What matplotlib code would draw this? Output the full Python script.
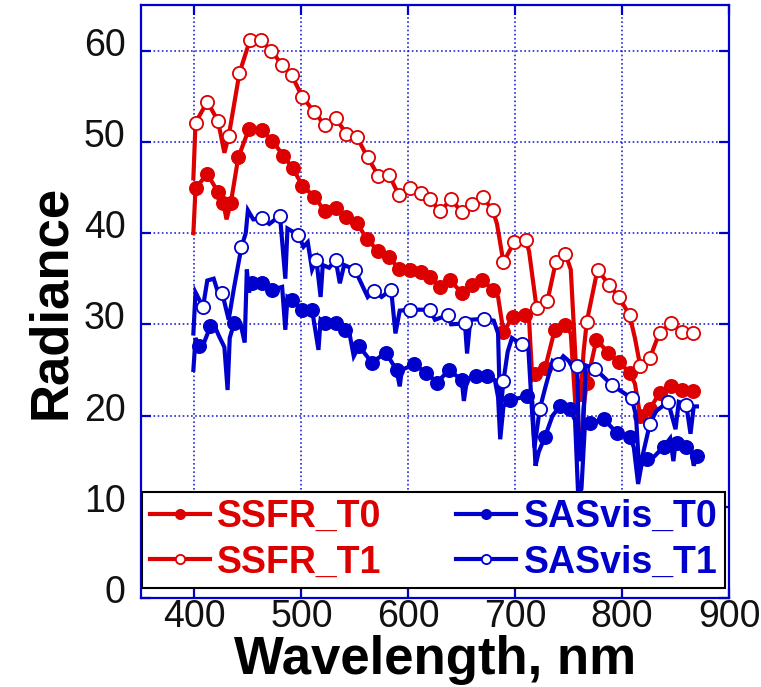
import numpy as np
import matplotlib
matplotlib.use("Agg")
import matplotlib.pyplot as plt
from matplotlib.transforms import ScaledTranslation

plt.rcParams['font.family'] = ['Liberation Sans', 'DejaVu Sans']

RED = '#DD0000'
BLUE = '#0000CC'

# ---- SSFR_T1 (open red circles) ----
ssfr_t1_mk_wl = [401, 412, 422, 432, 442, 452, 462, 472, 482, 491, 501, 512, 522, 532,
                 542, 552, 562, 572, 582, 591, 602, 612, 620, 630, 640, 650, 660, 670,
                 679, 689, 699, 710, 720, 730, 738, 747, 767, 777, 788, 797, 807, 817,
                 826, 835, 846, 856, 866]
ssfr_t1_mk_val = [52.1, 54.4, 52.3, 50.6, 57.5, 61.2, 61.2, 60.0, 58.4, 57.3, 54.9, 53.3,
                  51.8, 52.6, 50.9, 50.5, 48.3, 46.3, 46.4, 44.2, 44.9, 44.4, 43.7, 42.4,
                  43.7, 42.3, 43.2, 43.9, 42.5, 36.8, 39.0, 39.2, 31.8, 32.5, 36.8, 37.7,
                  30.3, 36.0, 34.3, 33.0, 31.0, 25.4, 26.3, 29.1, 30.1, 29.2, 29.0]
ssfr_t1_tr_wl = [399, 428, 683, 713, 752, 757, 761, 764, 812, 870]
ssfr_t1_tr_val = [46.0, 48.8, 41.0, 38.0, 36.0, 25.0, 21.5, 27.0, 28.5, 28.8]

# ---- SSFR_T0 (filled red circles) ----
ssfr_t0_mk_wl = [401, 412, 422, 427, 434, 441, 451, 463, 473, 483, 492, 501, 512, 522,
                 532, 542, 552, 561, 572, 582, 591, 602, 612, 620, 630, 639, 650, 660,
                 669, 679, 689, 698, 709, 719, 728, 737, 747, 767, 776, 787, 797, 807,
                 817, 826, 835, 846, 856, 866]
ssfr_t0_mk_val = [44.9, 46.5, 44.5, 43.3, 43.3, 48.3, 51.4, 51.3, 50.1, 48.5, 47.1, 45.2,
                  44.0, 42.4, 42.7, 41.8, 41.1, 39.4, 38.0, 37.4, 36.1, 36.0, 35.7, 35.2,
                  34.1, 34.9, 33.4, 34.3, 34.9, 33.8, 29.2, 30.8, 31.0, 24.5, 25.2, 29.4,
                  29.9, 23.6, 28.3, 26.9, 25.9, 24.7, 19.9, 20.7, 22.5, 23.2, 22.8, 22.7]
ssfr_t0_tr_wl = [399, 430, 684, 713, 716, 752, 757, 761, 764, 812, 870]
ssfr_t0_tr_val = [40.0, 41.5, 33.0, 30.5, 24.0, 29.0, 20.0, 15.5, 21.0, 23.5, 22.5]

# ---- SASvis_T1 (open blue circles) ----
sas_t1_mk_wl = [408, 426, 444, 463, 480, 497, 514, 532, 550, 568, 584, 602, 620, 637,
                653, 671, 689, 706, 723, 740, 758, 775, 791, 809, 826, 843, 860]
sas_t1_mk_val = [31.9, 33.4, 38.5, 41.6, 41.9, 39.8, 37.1, 37.1, 36.0, 33.7, 33.8, 31.6,
                 31.6, 31.0, 30.1, 30.6, 23.8, 27.8, 20.7, 25.7, 25.4, 25.1, 23.3, 21.9,
                 19.1, 21.5, 21.2]
sas_t1_tr_wl = [399, 401, 412, 418, 422, 432, 437, 448, 450, 455, 470, 485, 487, 502,
                506, 510, 518, 520, 526, 536, 540, 556, 562, 575, 588, 592, 625, 640,
                655, 658, 680, 684, 686, 693, 697, 712, 716, 718, 728, 735, 745, 750,
                755, 760, 763, 766, 813, 816, 832, 850, 853, 864, 867, 870]
sas_t1_tr_val = [29.0, 33.5, 34.8, 35.0, 33.5, 30.5, 34.0, 40.0, 42.5, 41.5, 41.0, 35.0,
                 40.5, 38.5, 39.0, 36.0, 33.0, 36.5, 36.2, 34.5, 36.5, 34.5, 33.0, 33.0,
                 29.0, 31.5, 30.5, 30.0, 26.8, 30.5, 30.4, 29.0, 20.0, 27.0, 28.5, 28.0,
                 20.0, 16.5, 23.0, 26.0, 26.5, 26.0, 25.0, 15.0, 17.0, 25.5, 20.0, 14.0,
                 20.5, 18.5, 21.5, 18.0, 21.0, 21.0]

# ---- SASvis_T0 (filled blue circles) ----
sas_t0_mk_wl = [404, 415, 437, 454, 463, 473, 491, 501, 510, 522, 532, 541, 554, 566,
                579, 589, 605, 617, 627, 638, 650, 663, 674, 695, 711, 728, 742, 751,
                770, 783, 795, 807, 823, 839, 851, 860, 870]
sas_t0_mk_val = [27.6, 29.8, 30.1, 34.5, 34.5, 33.8, 32.7, 31.6, 31.6, 30.1, 30.1, 29.4,
                 27.6, 25.8, 26.9, 25.0, 25.6, 24.7, 23.6, 25.0, 23.9, 24.3, 24.3, 21.7,
                 22.1, 17.7, 21.0, 20.7, 19.2, 19.6, 18.1, 17.7, 15.2, 16.6, 17.0, 16.6,
                 15.6]
sas_t0_tr_wl = [399, 401, 409, 420, 423, 428, 431, 433, 443, 447, 449, 451, 482, 485,
                487, 516, 518, 545, 549, 592, 594, 652, 655, 681, 684, 686, 689, 716,
                719, 722, 735, 756, 759, 762, 765, 811, 815, 818, 830, 845, 848, 850,
                865, 867]
sas_t0_tr_val = [25.0, 28.5, 28.0, 29.5, 28.7, 27.5, 22.8, 28.5, 30.1, 28.0, 36.0, 33.5,
                 34.1, 29.4, 33.0, 27.2, 30.5, 29.0, 26.5, 23.2, 25.0, 21.6, 24.0, 23.9,
                 22.0, 17.4, 21.0, 21.5, 14.5, 16.0, 20.0, 19.5, 11.0, 12.0, 18.5, 16.5,
                 12.5, 14.5, 15.5, 17.5, 15.0, 17.0, 16.0, 14.5]

x_ticks = [400, 500, 600, 700, 800, 900]
y_ticks = [0, 10, 20, 30, 40, 50, 60]


def combine(mk_wl, mk_val, tr_wl, tr_val):
    """Merge marker samples with the in-between trace samples; return the
    sorted curve and the indices that carry markers."""
    wl = np.array(list(mk_wl) + list(tr_wl), dtype=float)
    val = np.array(list(mk_val) + list(tr_val), dtype=float)
    is_mk = np.array([True] * len(mk_wl) + [False] * len(tr_wl))
    order = np.argsort(wl, kind='stable')
    wl, val, is_mk = wl[order], val[order], is_mk[order]
    return wl, val, list(np.nonzero(is_mk)[0])


fig = plt.figure(figsize=(7.61, 6.87), dpi=100)
ax = fig.add_axes([141 / 761, 1 - 598 / 687, (729 - 141) / 761, (598 - 5) / 687])

series = [
    ("SSFR_T0", ssfr_t0_mk_wl, ssfr_t0_mk_val, ssfr_t0_tr_wl, ssfr_t0_tr_val, RED, RED),
    ("SSFR_T1", ssfr_t1_mk_wl, ssfr_t1_mk_val, ssfr_t1_tr_wl, ssfr_t1_tr_val, RED, 'white'),
    ("SASvis_T0", sas_t0_mk_wl, sas_t0_mk_val, sas_t0_tr_wl, sas_t0_tr_val, BLUE, BLUE),
    ("SASvis_T1", sas_t1_mk_wl, sas_t1_mk_val, sas_t1_tr_wl, sas_t1_tr_val, BLUE, 'white'),
]

handles = {}
for name, mw, mv, tw, tv, col, face in series:
    wl, val, idx = combine(mw, mv, tw, tv)
    h, = ax.plot(wl, val, color=col, lw=3.0, marker='o', markevery=idx,
                 markersize=9.5, markerfacecolor=face, markeredgecolor=col,
                 markeredgewidth=1.3, solid_joinstyle='miter', label=name)
    handles[name] = h

ax.set_xlim(350, 900)
ax.set_ylim(0, 65)
ax.set_xticks(x_ticks)
ax.set_yticks(y_ticks)
ax.set_axisbelow(True)
ax.grid(True, color=BLUE, linestyle=(0, (1, 1.5)), linewidth=1.2, alpha=0.85)

for sp in ax.spines.values():
    sp.set_color(BLUE)
    sp.set_linewidth(1.6)

ax.tick_params(direction='in', length=7, width=1.6, color=BLUE, top=True, right=True,
               labelsize=27, labelcolor='#111111')
ax.tick_params(axis='x', pad=1)
ax.tick_params(axis='y', pad=11)
for lab in ax.get_yticklabels():
    lab.set_transform(lab.get_transform() + ScaledTranslation(0, 0.09, fig.dpi_scale_trans))

ax.set_xlabel("Wavelength, nm", fontsize=38, fontweight='bold', labelpad=0)
ax.set_ylabel("Radiance", fontsize=38, fontweight='bold', labelpad=6)

order = ["SSFR_T0", "SSFR_T1", "SASvis_T0", "SASvis_T1"]
x0, y0 = 142 / 761, 1 - 588 / 687
w, hgt = (725 - 142) / 761, (588 - 484) / 687
leg = fig.legend([handles[n] for n in order], order, ncol=2, mode='expand',
                 bbox_to_anchor=(x0, y0, w, hgt), loc='lower left',
                 bbox_transform=fig.transFigure, borderaxespad=0,
                 prop={'weight': 'bold', 'size': 27}, handlelength=1.6,
                 handletextpad=0.2, borderpad=0.2, labelspacing=0.25,
                 markerscale=0.7, fancybox=False, framealpha=1, edgecolor='black')
leg.get_frame().set_linewidth(1.5)
for txt, n in zip(leg.get_texts(), order):
    txt.set_color(RED if n.startswith("SSFR") else BLUE)

fig.savefig("out.png", dpi=100)
